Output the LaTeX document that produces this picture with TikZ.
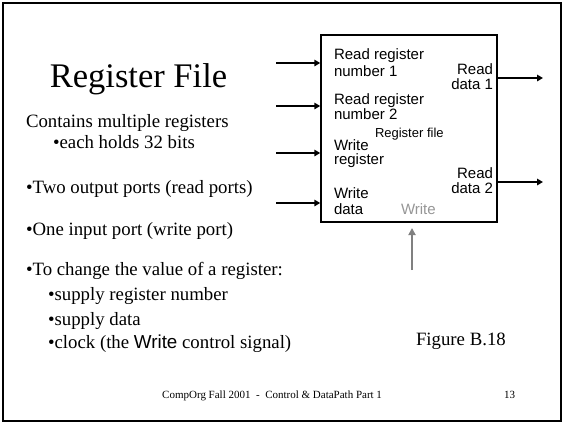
\documentclass[tikz,border=0pt]{standalone}
\usepackage{fontspec}
\setmainfont{Liberation Serif}
\newfontfamily\arialf{Liberation Sans}
\usetikzlibrary{arrows.meta}
\definecolor{wgray}{RGB}{128,128,128}
\definecolor{lgray}{RGB}{150,150,150}
\tikzset{
  txt/.style={inner sep=0pt, outer sep=0pt, anchor=base west, font=\fontsize{18.8pt}{22pt}\selectfont},
  lbl/.style={inner sep=0pt, outer sep=0pt, anchor=base west, font=\arialf\fontsize{15pt}{17pt}\selectfont},
  rlbl/.style={lbl, anchor=base east},
  inarrow/.style={line width=2.6pt, -{Triangle[length=6pt,width=6.5pt]}},
  grayarrow/.style={line width=2pt, wgray, -{Triangle[length=7pt,width=7pt]}},
}
\begin{document}
\begin{tikzpicture}[x=1pt,y=-1pt]
\useasboundingbox (0,0) rectangle (564,424);
\draw[line width=2pt] (3,3) rectangle (561,421);

% left text
\node[inner sep=0pt, anchor=base, font=\fontsize{34.5pt}{40pt}\selectfont] (title) at (138.5,87) {Register File};
\node[txt] (t1) at (26,127) {Contains multiple registers};
\node[txt] (t2) at (53,148) {•each holds 32 bits};
\node[txt] (t3) at (26,193) {•Two output ports (read ports)};
\node[txt] (t4) at (26,235) {•One input port (write port)};
\node[txt] (t5) at (26,275) {•To change the value of a register:};
\node[txt] (t6) at (48,300) {•supply register number};
\node[txt] (t7) at (48,325) {•supply data};
\node[txt] (t8) at (48,348) {•clock (the {\arialf Write} control signal)};
\node[txt] (fig) at (416,345) {Figure B.18};
\node[inner sep=0pt, anchor=base west, font=\fontsize{11pt}{13pt}\selectfont] (foot) at (162,398) {CompOrg Fall 2001 \ - \ Control \& DataPath Part 1};
\node[inner sep=0pt, anchor=base west, font=\fontsize{11pt}{13pt}\selectfont] (pg) at (504,398) {13};

% register file box
\node[draw, line width=1.5pt, minimum width=176pt, minimum height=187pt, inner sep=0pt] (rf) at (409,128.5) {};

\node[lbl] (rr1a) at (334,59.3) {Read register};
\node[lbl] (rr1b) at (334,76.7) {number 1};
\node[rlbl] (rd1a) at (493,74) {Read};
\node[rlbl] (rd1b) at (493,89.3) {data 1};
\node[lbl] (rr2a) at (334,104) {Read register};
\node[lbl] (rr2b) at (334,119.3) {number 2};
\node[lbl, font=\arialf\fontsize{13pt}{15pt}\selectfont] (rfl) at (375,137.3) {Register file};
\node[lbl] (wra) at (334,150) {Write};
\node[lbl] (wrb) at (334,164) {register};
\node[rlbl] (rd2a) at (493,178.3) {Read};
\node[rlbl] (rd2b) at (493,193.3) {data 2};
\node[lbl] (wda) at (334,198.3) {Write};
\node[lbl] (wdb) at (334,214) {data};
\node[lbl, text=lgray] (wctl) at (401,214) {Write};

% connector endpoints
\coordinate (i1) at (276,63);
\coordinate (i2) at (276,106);
\coordinate (i3) at (276,153);
\coordinate (i4) at (276,203);
\coordinate (o1) at (543,78);
\coordinate (o2) at (543,182);
\coordinate (wsrc) at (412,270);
\coordinate (wtip) at (412,228);

\draw[inarrow] (i1) -- (i1 -| rf.west);
\draw[inarrow] (i2) -- (i2 -| rf.west);
\draw[inarrow] (i3) -- (i3 -| rf.west);
\draw[inarrow] (i4) -- (i4 -| rf.west);
\draw[inarrow] (o1 -| rf.east) -- (o1);
\draw[inarrow] (o2 -| rf.east) -- (o2);
\draw[grayarrow] (wsrc) -- (wtip);
\end{tikzpicture}
\end{document}
